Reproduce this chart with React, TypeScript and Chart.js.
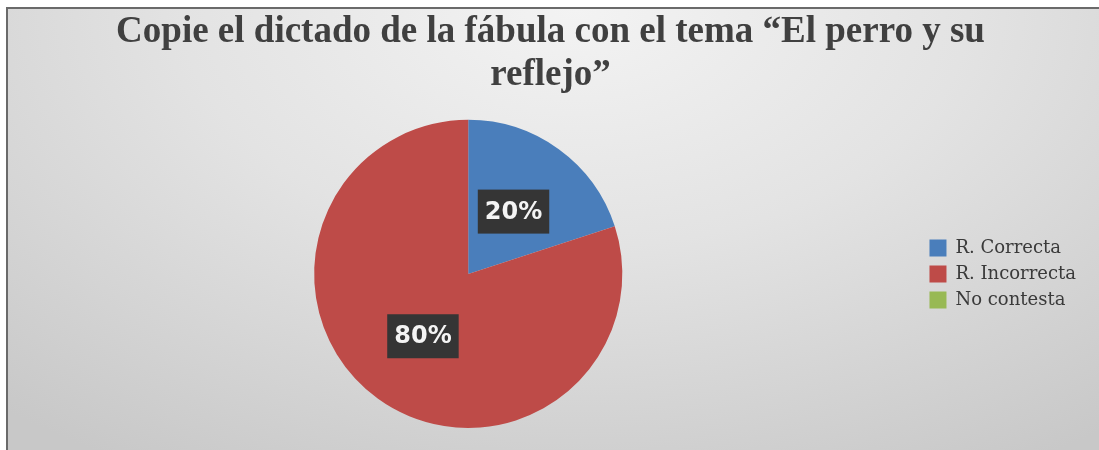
import { useEffect, useRef } from 'react';
import { Chart, registerables, type ChartConfiguration, type Plugin } from 'chart.js';

Chart.register(...registerables);

const TITLE_LINES = ['Copie el dictado de la fábula con el tema “El perro y su', 'reflejo”'];
const CATEGORIES = ['R. Correcta', 'R. Incorrecta', 'No contesta'];
const VALUES = [20, 80, 0];
const COLORS = ['#4a7ebb', '#be4b48', '#98b954'];

// boxed percentage labels at the middle of each slice
const pctLabels: Plugin<'pie'> = {
  id: 'pctLabels',
  afterDatasetsDraw(chart) {
    const { ctx } = chart;
    const meta = chart.getDatasetMeta(0);
    const data = chart.data.datasets[0].data as number[];
    const total = data.reduce((a, b) => a + b, 0);
    ctx.save();
    ctx.font = "bold 24px 'DejaVu Sans'";
    ctx.textAlign = 'center';
    ctx.textBaseline = 'middle';
    meta.data.forEach((arc, i) => {
      const v = data[i];
      if (!v) return;
      const { x, y } = arc.tooltipPosition(false);
      const txt = Math.round((v / total) * 100) + '%';
      const w = ctx.measureText(txt).width + 14;
      const h = 44;
      ctx.fillStyle = '#353535';
      ctx.fillRect(x - w / 2, y - h / 2, w, h);
      ctx.fillStyle = '#f4f4f4';
      ctx.fillText(txt, x, y + 1);
    });
    ctx.restore();
  },
};

export default function App() {
  const canvasRef = useRef<HTMLCanvasElement>(null);

  useEffect(() => {
    if (!canvasRef.current) return;
    const config: ChartConfiguration<'pie'> = {
      type: 'pie',
      data: {
        labels: CATEGORIES,
        datasets: [
          {
            data: VALUES,
            backgroundColor: COLORS,
            borderWidth: 0,
          },
        ],
      },
      options: {
        responsive: true,
        maintainAspectRatio: false,
        animation: false,
        layout: { padding: { left: 7, right: 13, top: 0, bottom: 22 } },
        plugins: {
          title: {
            display: true,
            text: TITLE_LINES,
            color: '#404040',
            font: { family: "'Liberation Serif', serif", size: 37, weight: 'bold', lineHeight: 1.16 },
            padding: { top: 2, bottom: 23 },
          },
          legend: {
            position: 'right',
            align: 'center',
            fullSize: false,
            labels: {
              color: '#3a3a3a',
              boxWidth: 17,
              boxHeight: 17,
              padding: 8,
              font: { family: "'DejaVu Serif', serif", size: 18 },
            },
          },
          tooltip: { enabled: false },
        },
      },
      plugins: [pctLabels],
    };
    const chart = new Chart(canvasRef.current, config);
    return () => chart.destroy();
  }, []);

  return (
    <div style={{ position: 'absolute', left: 0, top: 0, width: 1099, height: 450, overflow: 'hidden' }}>
      <div
        style={{
          position: 'absolute',
          left: 6,
          top: 7,
          right: 0,
          bottom: 0,
          borderLeft: '2px solid #6a6a6a',
          borderTop: '2px solid #6a6a6a',
          background: 'radial-gradient(ellipse 80% 120% at 52% 0%, #f3f3f3 0%, #e3e3e3 45%, #c8c8c8 100%)',
        }}
      >
        <div style={{ position: 'absolute', inset: 0 }}>
          <canvas ref={canvasRef} />
        </div>
      </div>
    </div>
  );
}
